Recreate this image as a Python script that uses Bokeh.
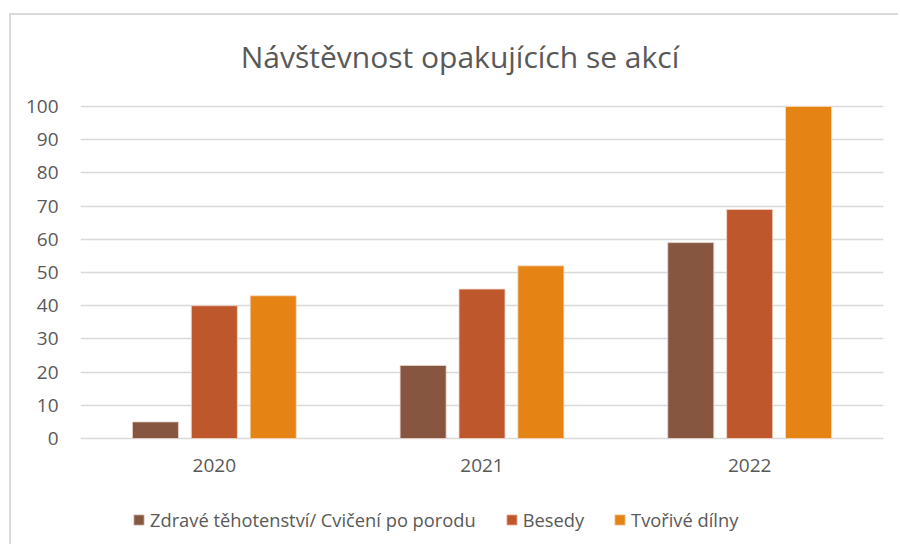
from bokeh.plotting import figure
from bokeh.models import FactorRange, Range1d, Legend, LegendItem, ColumnDataSource, FixedTicker, Label
from bokeh.transform import dodge
from bokeh.embed import file_html
from bokeh.resources import INLINE

years = ["2020", "2021", "2022"]
series_names = ["Zdravé těhotenství/ Cvičení po porodu", "Besedy", "Tvořivé dílny"]
zdrave = [5, 22, 59]
besedy = [40, 45, 69]
tvorive = [43, 52, 100]
y_ticks = [0, 10, 20, 30, 40, 50, 60, 70, 80, 90, 100]
colors = ["#875640", "#BE582C", "#E58314"]
title_text = "Návštěvnost opakujících se akcí"

FONT = "Open Sans"
TXT = "#595959"

src = ColumnDataSource(dict(year=years, a=zdrave, b=besedy, c=tvorive))

p = figure(width=889, height=531, x_range=FactorRange(*years), y_range=Range1d(-32.53, 127.41),
           output_backend="svg", toolbar_location=None,
           min_border_left=69, min_border_right=17, min_border_top=0, min_border_bottom=0)
p.styles = {"margin-left": "11px", "margin-top": "15px", "box-shadow": "-2px -2px 0 0 #d9d9d9"}
p.outline_line_color = None

title = Label(text=title_text, x=379.5, y=490, x_units="screen", y_units="screen",
              text_align="center", text_baseline="alphabetic",
              text_font=FONT, text_font_size="30px", text_color=TXT)
p.add_layout(title)

w = 0.172
off = 0.22
r1 = p.vbar(x=dodge("year", -off, range=p.x_range), top="a", width=w, source=src,
            fill_color=colors[0], line_color="#e8d8d0", line_width=0.8)
r2 = p.vbar(x=dodge("year", 0, range=p.x_range), top="b", width=w, source=src,
            fill_color=colors[1], line_color="#f0d8cc", line_width=0.8)
r3 = p.vbar(x=dodge("year", off, range=p.x_range), top="c", width=w, source=src,
            fill_color=colors[2], line_color="#f5dcc4", line_width=0.8)

p.yaxis.ticker = FixedTicker(ticks=y_ticks)
for ax in (p.xaxis[0], p.yaxis[0]):
    ax.axis_line_color = None
    ax.major_tick_line_color = None
    ax.minor_tick_line_color = None
    ax.major_label_text_font = FONT
    ax.major_label_text_font_size = "19px"
    ax.major_label_text_color = TXT
p.yaxis.major_label_standoff = 16
p.xaxis.major_label_standoff = 14
p.xaxis.fixed_location = 0

p.xgrid.grid_line_color = None
p.ygrid.grid_line_color = "#d9d9d9"
p.ygrid.grid_line_width = 1.3

legend = Legend(items=[LegendItem(label=series_names[0], renderers=[r1]),
                       LegendItem(label=series_names[1], renderers=[r2]),
                       LegendItem(label=series_names[2], renderers=[r3])],
                orientation="horizontal", location=(52, 14),
                label_text_font=FONT, label_text_font_size="18.3px", label_text_color=TXT,
                glyph_width=13, glyph_height=13, label_standoff=5, spacing=29,
                padding=2, margin=0, border_line_color=None, background_fill_alpha=0)
p.add_layout(legend, "center")

open("out.html", "w").write(file_html(p, INLINE))
